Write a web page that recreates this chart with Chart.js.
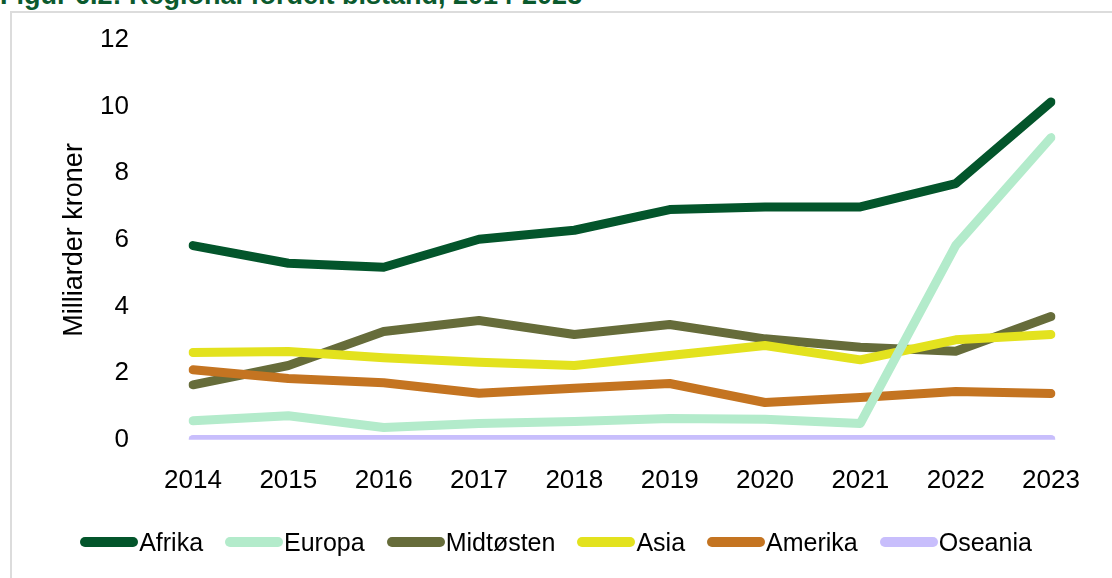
<!DOCTYPE html>
<html>
<head>
<meta charset="utf-8">
<script src="https://cdn.jsdelivr.net/npm/chart.js@4.4.1/dist/chart.umd.min.js"></script>
<style>
  html, body { margin: 0; padding: 0; background: #fff; width: 1112px; height: 578px; overflow: hidden; }
  #title { position: absolute; left: 0; top: -18px; font: bold 27px "Liberation Sans", Arial, sans-serif; line-height: 27px; color: #0b5a2e; white-space: nowrap; }
  #frame { position: absolute; left: 10px; top: 11px; width: 1102px; height: 567px; border-left: 2px solid #dcdcdc; border-top: 2px solid #dcdcdc; box-sizing: border-box; }
  #wrap { position: absolute; left: 0; top: 0; width: 1112px; height: 578px; }
  #legend { position: absolute; left: 0; top: 527px; width: 1112px; height: 30px; display: flex; justify-content: center; align-items: center; font: 25px "Liberation Sans", Arial, sans-serif; color: #000; }
  .item { display: flex; align-items: center; margin: 0 11px; }
  .box { width: 58px; height: 10px; border-radius: 5px; margin-right: 1px; }
</style>
</head>
<body>
<div id="title">Figur 6.2: Regional fordelt bistand, 2014-2023</div>
<div id="frame"></div>
<div id="wrap"><canvas id="c" width="1112" height="578"></canvas></div>
<div id="legend"></div>
<script>
const years = ["2014","2015","2016","2017","2018","2019","2020","2021","2022","2023"];
const afrika    = [5.83, 5.30, 5.18, 6.02, 6.29, 6.91, 6.99, 6.99, 7.69, 10.14];
const europa    = [0.57, 0.72, 0.37, 0.49, 0.55, 0.64, 0.62, 0.49, 5.83, 9.07];
const midtosten = [1.65, 2.23, 3.25, 3.58, 3.16, 3.46, 3.03, 2.78, 2.66, 3.70];
const asia      = [2.62, 2.65, 2.46, 2.33, 2.23, 2.53, 2.83, 2.40, 3.00, 3.16];
const amerika   = [2.10, 1.84, 1.71, 1.40, 1.55, 1.69, 1.12, 1.27, 1.45, 1.39];
const oseania   = [0.01, 0.01, 0.01, 0.01, 0.01, 0.01, 0.01, 0.01, 0.01, 0.01];
const seriesNames = ["Afrika","Europa","Midtøsten","Asia","Amerika","Oseania"];
const seriesColors = ["#03552b","#b3ebcb","#666c3a","#e3e21e","#c47421","#c8befc"];
const yTicks = [0, 2, 4, 6, 8, 10, 12];
const yTitle = "Milliarder kroner";

const allData = [afrika, europa, midtosten, asia, amerika, oseania];
// draw order: Oseania at bottom, Afrika on top
const order = [5, 1, 4, 2, 3, 0];
const datasets = allData.map((d, i) => ({
  label: seriesNames[i],
  data: d,
  borderColor: seriesColors[i],
  backgroundColor: seriesColors[i],
  borderWidth: 9,
  borderCapStyle: 'round',
  borderJoinStyle: 'round',
  pointRadius: 0,
  tension: 0,
  fill: false,
  order: order[i]
}));

const FONT = "'Liberation Sans', Arial, sans-serif";

new Chart(document.getElementById('c'), {
  type: 'line',
  data: { labels: years, datasets },
  options: {
    responsive: false,
    animation: false,
    layout: { padding: { left: 0, right: 61, top: 40, bottom: 82 } },
    plugins: { legend: { display: false }, tooltip: { enabled: false } },
    scales: {
      x: {
        grid: { display: false, drawTicks: true, tickLength: 25 },
        border: { display: false },
        ticks: { color: '#000', font: { family: FONT, size: 26 }, padding: 0, maxRotation: 0, autoSkip: false }
      },
      y: {
        min: 0, max: 12,
        afterBuildTicks: (s) => { s.ticks = yTicks.map(v => ({ value: v })); },
        afterFit: (s) => { s.width = 193; },
        grid: { display: false, drawTicks: true, tickLength: 64 },
        border: { display: false },
        ticks: { color: '#000', font: { family: FONT, size: 26 }, padding: 0 },
        title: { display: true, text: yTitle, color: '#000', font: { family: FONT, size: 27 }, padding: { top: 58, bottom: 0 } }
      }
    }
  }
});

const lg = document.getElementById('legend');
seriesNames.forEach((n, i) => {
  const it = document.createElement('div');
  it.className = 'item';
  const b = document.createElement('span');
  b.className = 'box';
  b.style.background = seriesColors[i];
  const t = document.createElement('span');
  t.textContent = n;
  it.appendChild(b); it.appendChild(t);
  lg.appendChild(it);
});
</script>
</body>
</html>
